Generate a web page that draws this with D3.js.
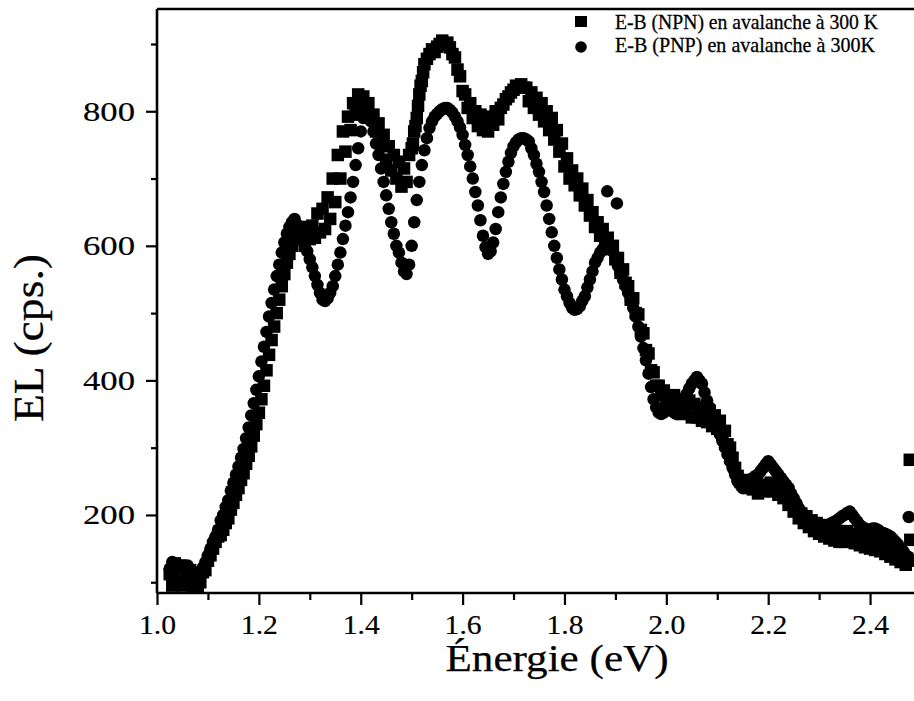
<!DOCTYPE html>
<html><head><meta charset="utf-8">
<script src="https://cdn.jsdelivr.net/npm/d3@7"></script>
<style>html,body{margin:0;padding:0;background:#fff;} svg{display:block;} text{font-family:"Liberation Serif","Times New Roman",serif;}</style>
</head><body>
<svg id="chart" width="914" height="701"></svg>
<script>
const energy = [
1.025,1.03,1.035,1.04,1.045,1.05,1.055,1.06,1.065,1.07,
1.075,1.08,1.085,1.09,1.095,1.1,1.105,1.11,1.115,1.12,
1.125,1.13,1.135,1.14,1.145,1.15,1.155,1.16,1.165,1.17,
1.175,1.18,1.185,1.19,1.195,1.2,1.205,1.21,1.215,1.22,
1.225,1.23,1.235,1.24,1.245,1.25,1.255,1.26,1.265,1.27,
1.275,1.28,1.285,1.29,1.295,1.3,1.305,1.31,1.315,1.32,
1.325,1.33,1.335,1.34,1.345,1.35,1.355,1.36,1.365,1.37,
1.375,1.38,1.385,1.39,1.395,1.4,1.405,1.41,1.415,1.42,
1.425,1.43,1.435,1.44,1.445,1.45,1.455,1.46,1.465,1.47,
1.475,1.48,1.485,1.49,1.495,1.5,1.505,1.51,1.515,1.52,
1.525,1.53,1.535,1.54,1.545,1.55,1.555,1.56,1.565,1.57,
1.575,1.58,1.585,1.59,1.595,1.6,1.605,1.61,1.615,1.62,
1.625,1.63,1.635,1.64,1.645,1.65,1.655,1.66,1.665,1.67,
1.675,1.68,1.685,1.69,1.695,1.7,1.705,1.71,1.715,1.72,
1.725,1.73,1.735,1.74,1.745,1.75,1.755,1.76,1.765,1.77,
1.775,1.78,1.785,1.79,1.795,1.8,1.805,1.81,1.815,1.82,
1.825,1.83,1.835,1.84,1.845,1.85,1.855,1.86,1.865,1.87,
1.875,1.88,1.885,1.89,1.895,1.9,1.905,1.91,1.915,1.92,
1.925,1.93,1.935,1.94,1.945,1.95,1.955,1.96,1.965,1.97,
1.975,1.98,1.985,1.99,1.995,2.0,2.005,2.01,2.015,2.02,
2.025,2.03,2.035,2.04,2.045,2.05,2.055,2.06,2.065,2.07,
2.075,2.08,2.085,2.09,2.095,2.1,2.105,2.11,2.115,2.12,
2.125,2.13,2.135,2.14,2.145,2.15,2.155,2.16,2.165,2.17,
2.175,2.18,2.185,2.19,2.195,2.2,2.205,2.21,2.215,2.22,
2.225,2.23,2.235,2.24,2.245,2.25,2.255,2.26,2.265,2.27,
2.275,2.28,2.285,2.29,2.295,2.3,2.305,2.31,2.315,2.32,
2.325,2.33,2.335,2.34,2.345,2.35,2.355,2.36,2.365,2.37,
2.375,2.38,2.385,2.39,2.395,2.4,2.405,2.41,2.415,2.42,
2.425,2.43,2.435,2.44,2.445,2.45,2.455,2.46,2.465,2.47,
2.475];

// E-B (NPN) — squares
const npnEL = [
112,95,128,100,125,95,122,100,118,92,
108,90,100,115,118,132,140,150,160,168,
170,178,188,195,208,218,230,240,252,262,
276,288,302,318,335,352,372,392,415,438,
460,480,500,520,540,558,575,588,600,610,
625,610,620,600,628,610,630,612,648,620,
655,625,672,640,700,665,735,700,770,740,
792,772,812,795,825,810,822,805,812,792,
795,770,782,750,765,728,748,712,735,700,
725,688,715,695,735,745,770,790,825,845,
870,878,885,892,888,896,900,905,898,902,
895,885,880,862,852,830,825,805,812,790,
800,778,795,772,790,770,792,780,800,788,
805,810,818,822,828,832,838,835,840,835,
835,815,828,805,820,795,812,785,800,772,
790,758,772,740,752,718,730,700,712,690,
700,675,685,660,668,645,650,628,635,615,
625,605,612,595,600,580,582,560,565,545,
540,520,522,500,498,475,470,445,440,415,
412,392,392,378,385,368,378,360,378,355,
372,350,372,355,370,345,365,345,360,340,
358,338,355,332,348,328,340,320,325,305,
300,285,270,258,250,245,252,240,248,238,
245,232,240,235,245,238,248,235,242,230,
238,225,232,215,220,205,210,195,202,188,
198,182,192,176,188,172,185,168,180,165,
178,162,176,160,174,160,176,162,172,158,
170,155,168,152,165,150,164,148,160,146,
158,142,154,138,150,134,146,130,140,126,
132];

// E-B (PNP) — circles
const pnpEL = [
120,130,108,126,100,120,104,125,108,100,
114,96,108,122,130,140,150,160,168,178,
192,200,212,222,236,248,260,272,285,298,
314,330,348,366,386,406,428,450,472,495,
515,535,555,572,590,605,618,628,635,640,
632,625,615,605,592,580,568,555,542,530,
520,518,522,530,540,555,572,590,610,630,
650,672,695,720,745,770,790,800,795,785,
770,752,735,715,695,675,655,635,618,600,
590,575,562,558,572,600,635,668,695,720,
742,760,775,785,792,796,800,803,805,805,
802,798,792,785,776,765,750,735,718,700,
680,660,638,615,598,588,592,605,625,650,
672,692,710,725,738,748,754,758,760,760,
758,755,745,735,722,710,695,680,660,640,
620,600,582,565,550,535,525,515,508,505,
506,510,518,525,538,550,562,575,582,590,
595,600,602,600,592,580,570,560,550,540,
530,520,508,495,480,465,448,430,410,390,
372,360,352,350,352,355,360,358,352,350,
358,365,372,380,388,395,400,405,400,395,
382,370,360,350,340,330,320,310,300,290,
280,270,260,250,245,240,242,245,250,255,
258,260,265,270,275,280,275,270,265,260,
255,250,245,240,232,225,218,210,205,200,
196,192,190,190,188,185,183,182,183,185,
188,190,192,195,198,200,203,205,200,195,
190,185,182,180,178,178,180,180,178,175,
173,172,170,168,164,160,156,150,146,140,
138];

// isolated / in-between readings
const npnExtraE = [1.5025, 1.5075, 1.5125, 1.5175, 1.5225, 2.478, 2.479];
const npnExtraEL = [752, 778, 808, 838, 858, 282, 163];
const pnpExtraE = [1.884, 1.903, 2.476];
const pnpExtraEL = [681, 663, 197];

const xMajor = [1.0,1.2,1.4,1.6,1.8,2.0,2.2,2.4];
const xMajorLabels = ["1.0","1.2","1.4","1.6","1.8","2.0","2.2","2.4"];
const xMinor = [1.1,1.3,1.5,1.7,1.9,2.1,2.3,2.5];
const yMajor = [200,400,600,800];
const yMajorLabels = ["200","400","600","800"];
const yMinor = [100,300,500,700,900];

const legendLabels = ["E-B (NPN) en avalanche à 300 K","E-B (PNP) en avalanche à 300K"];
const xTitle = "Énergie (eV)";
const yTitle = "EL (cps.)";

const FONT = "Liberation Serif";
const svg = d3.select("#chart");

const x = d3.scaleLinear().domain([1.0, 2.5]).range([157, 921]);
const y = d3.scaleLinear().domain([84, 952]).range([593, 9]);

svg.append("defs").append("clipPath").attr("id","plotclip")
  .append("rect").attr("x", x(1.0)).attr("y", y(952)).attr("width", x(2.5)-x(1.0)).attr("height", y(84)-y(952));

const gx = svg.append("g").attr("transform", `translate(0,${y(84)})`)
  .call(d3.axisBottom(x).tickValues(xMajor).tickSize(12).tickPadding(9)
        .tickFormat((d,i)=>xMajorLabels[i]));
const gxm = svg.append("g").attr("transform", `translate(0,${y(84)})`)
  .call(d3.axisBottom(x).tickValues(xMinor).tickSize(7).tickFormat(""));
const gy = svg.append("g").attr("transform", `translate(${x(1.0)},0)`)
  .call(d3.axisLeft(y).tickValues(yMajor).tickSize(11).tickPadding(11)
        .tickFormat((d,i)=>yMajorLabels[i]));
const gym = svg.append("g").attr("transform", `translate(${x(1.0)},0)`)
  .call(d3.axisLeft(y).tickValues(yMinor).tickSize(6).tickFormat(""));

[gx,gxm,gy,gym].forEach(g=>{
  g.attr("font-family", null).attr("font-size", null);
  g.select(".domain").remove();
  g.selectAll(".tick line").attr("stroke","#000").attr("stroke-width",2.2);
});
gx.selectAll(".tick text").style("font-family",FONT).style("font-size","28px").attr("fill","#000")
  .attr("stroke","#000").attr("stroke-width",0.2)
  .attr("textLength",37).attr("lengthAdjust","spacingAndGlyphs");
gy.selectAll(".tick text").style("font-family",FONT).style("font-size","28px").attr("fill","#000")
  .attr("stroke","#000").attr("stroke-width",0.2)
  .attr("textLength",52).attr("lengthAdjust","spacingAndGlyphs");

const frame = svg.append("g").attr("stroke","#000").attr("stroke-width",2.6).attr("fill","none");
frame.append("line").attr("x1",x(1.0)).attr("x2",x(1.0)).attr("y1",y(952)).attr("y2",y(84));
frame.append("line").attr("x1",x(1.0)).attr("x2",x(2.5)).attr("y1",y(84)).attr("y2",y(84));
frame.append("line").attr("x1",x(1.0)).attr("x2",x(2.5)).attr("y1",y(952)).attr("y2",y(952));

const npn = energy.map((e,i)=>({e, v:npnEL[i]})).concat(npnExtraE.map((e,i)=>({e, v:npnExtraEL[i]})));
const pnp = energy.map((e,i)=>({e, v:pnpEL[i]})).concat(pnpExtraE.map((e,i)=>({e, v:pnpExtraEL[i]})));
const S = 12.5;
const plot = svg.append("g").attr("clip-path","url(#plotclip)");
plot.append("g").selectAll("rect").data(npn).join("rect")
  .attr("x", d=>x(d.e)-S/2).attr("y", d=>y(d.v)-S/2).attr("width",S).attr("height",S).attr("fill","#000");
plot.append("g").selectAll("circle").data(pnp).join("circle")
  .attr("cx", d=>x(d.e)).attr("cy", d=>y(d.v)).attr("r",S/2).attr("fill","#000");

const lg = svg.append("g");
lg.append("rect").attr("x",575).attr("y",16).attr("width",12).attr("height",11).attr("fill","#000");
lg.append("circle").attr("cx",581).attr("cy",47).attr("r",5.8).attr("fill","#000");
lg.selectAll("text").data(legendLabels).join("text")
  .attr("x",615).attr("y",(d,i)=>29+i*22.5)
  .style("font-family",FONT).style("font-size","22px").attr("fill","#000")
  .attr("stroke","#000").attr("stroke-width",0.3)
  .attr("textLength",(d,i)=>i===0?263:260).attr("lengthAdjust","spacingAndGlyphs")
  .text(d=>d);

svg.append("text").attr("x",557).attr("y",671).attr("text-anchor","middle")
  .style("font-family",FONT).style("font-size","38px").attr("fill","#000")
  .attr("stroke","#000").attr("stroke-width",0.25)
  .attr("textLength",223).attr("lengthAdjust","spacingAndGlyphs").text(xTitle);
svg.append("text").attr("transform","translate(43,338) rotate(-90)").attr("text-anchor","middle")
  .style("font-family",FONT).style("font-size","42px").attr("fill","#000")
  .attr("stroke","#000").attr("stroke-width",0.25)
  .attr("textLength",168).attr("lengthAdjust","spacingAndGlyphs").text(yTitle);
</script>
</body></html>
